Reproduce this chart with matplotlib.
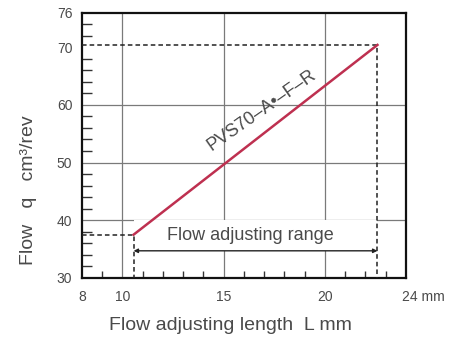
import matplotlib.pyplot as plt
from matplotlib.transforms import ScaledTranslation

plt.rcParams['font.family'] = ['Liberation Sans', 'DejaVu Sans']

# data
L_range = [10.55, 22.6]      # flow adjusting length, mm
q_range = [37.5, 70.4]       # flow, cm3/rev
xticks = [8, 10, 15, 20, 24]
xlabels = ['8', '10', '15', '20', '24 mm']
yticks = [30, 40, 50, 60, 70, 76]
xgrid = [10, 15, 20]
ygrid = [40, 50, 60]
arrow_y = 34.7
model = 'PVS70\u2013A\u2022\u2013F\u2013R'

txt = '#4a4a4a'
red = '#be3050'

fig = plt.figure(figsize=(4.58, 3.41), dpi=100)
ax = fig.add_axes([0.179, 0.185, 0.707, 0.778])
ax.set_xlim(8, 24)
ax.set_ylim(30, 76)

for x in xgrid:
    ax.axvline(x, color='#7a7a7a', lw=0.9, zorder=1)
for y in ygrid:
    ax.axhline(y, color='#7a7a7a', lw=0.9, zorder=1)

# white band behind the range label
ax.fill_between(L_range, arrow_y, 40, color='white', zorder=2, lw=0)

# dashed guides
ax.plot([8, L_range[0], L_range[0]], [q_range[0], q_range[0], 30],
        color='#222', ls=(0, (3, 2)), lw=1.1, zorder=3)
ax.plot([8, L_range[1], L_range[1]], [q_range[1], q_range[1], 30],
        color='#222', ls=(0, (3, 2)), lw=1.1, zorder=3)

ax.plot(L_range, q_range, color=red, lw=1.8, zorder=4)

ax.annotate('', xy=(L_range[1], arrow_y), xytext=(L_range[0], arrow_y),
            arrowprops=dict(arrowstyle='<|-|>', color='#222', lw=1.0,
                            mutation_scale=6, shrinkA=0, shrinkB=0), zorder=4)
ax.text(16.3, 37.4, 'Flow adjusting range', ha='center', va='center',
        fontsize=13, color=txt, zorder=5)
ax.text(16.9, 59.0, model, ha='center', va='center', rotation=35,
        rotation_mode='anchor', fontsize=13, color=txt, zorder=5)

ax.set_xticks(xticks)
ax.set_xticklabels(xlabels)
ax.set_xticks(range(9, 24), minor=True)
ax.set_yticks(yticks)
ax.set_yticks(range(32, 76, 2), minor=True)
ax.tick_params(axis='both', which='major', length=0, labelsize=10,
               labelcolor=txt)
ax.tick_params(axis='x', which='major', pad=9)
ax.tick_params(axis='y', which='major', pad=7)
ax.tick_params(axis='y', which='minor', direction='in', length=7,
               width=1, color='#333')
ax.tick_params(axis='x', which='minor', direction='in', length=5,
               width=1, color='#333')
last = ax.get_xticklabels()[-1]
last.set_ha('left')
last.set_transform(last.get_transform() +
                   ScaledTranslation(-3 / 72, 0, fig.dpi_scale_trans))

for s in ax.spines.values():
    s.set_linewidth(1.6)
    s.set_color('#111')

fig.text(0.503, 0.045, 'Flow adjusting length  L mm', ha='center',
         va='center', fontsize=14, color=txt)
fig.text(0.062, 0.443, 'Flow   q   cm\u00b3/rev', ha='center', va='center',
         rotation=90, fontsize=14, color=txt)

fig.savefig('out.png', dpi=100)
